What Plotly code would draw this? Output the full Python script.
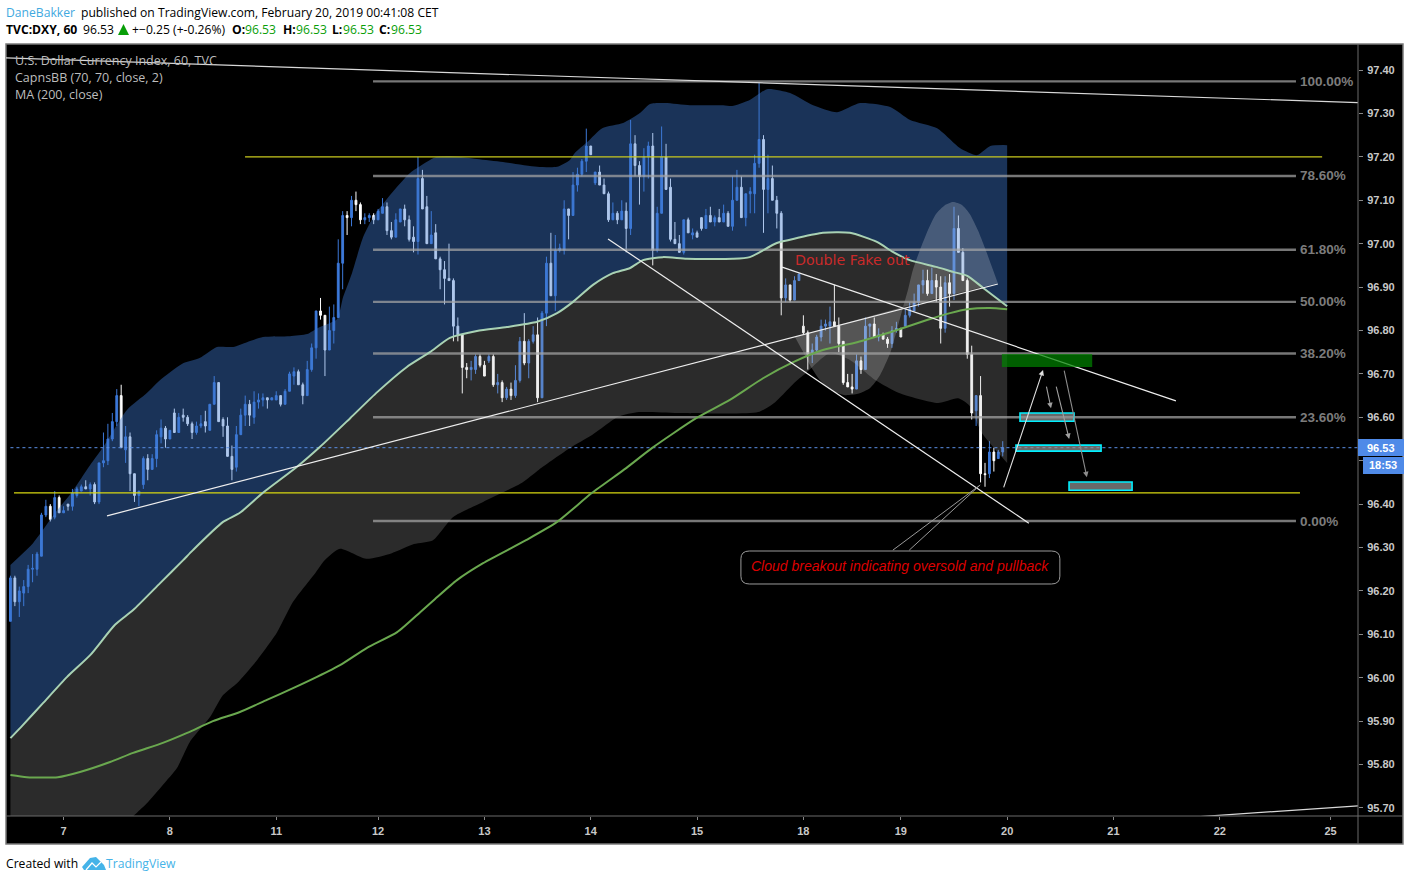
import plotly.graph_objects as go

# ---------- candles (hourly bars, index 0..224) ----------
OPEN = [
96.13,96.23,96.175,96.195,96.21,96.25,96.25,96.28,96.375,96.395,
96.37,96.415,96.38,96.4,96.395,96.42,96.43,96.44,96.435,96.445,
96.405,96.495,96.5,96.55,96.59,96.65,96.525,96.555,96.47,96.42,
96.445,96.505,96.48,96.505,96.555,96.575,96.55,96.61,96.565,96.605,
96.6,96.585,96.565,96.58,96.59,96.57,96.63,96.68,96.595,96.58,
96.51,96.485,96.56,96.605,96.63,96.6,96.635,96.64,96.645,96.64,
96.64,96.65,96.63,96.66,96.695,96.705,96.675,96.65,96.71,96.76,
96.845,96.835,96.755,96.8,96.83,96.955,97.065,97.06,97.1,97.09,
97.055,97.06,97.065,97.055,97.07,97.085,97.03,97.015,97.05,97.08,
97.055,97.015,97.005,97.15,97.085,97.0,97.025,96.965,96.94,96.92,
96.915,96.81,96.79,96.715,96.71,96.71,96.74,96.72,96.73,96.74,
96.675,96.68,96.645,96.665,96.65,96.685,96.775,96.725,96.775,96.79,
96.645,96.84,96.955,96.88,96.985,96.985,97.08,97.065,97.135,97.16,
97.19,97.225,97.14,97.165,97.135,97.115,97.055,97.07,97.055,97.075,
97.035,97.23,97.18,97.155,97.2,97.225,96.985,97.07,97.2,97.13,
97.01,97.0,96.98,97.055,97.02,97.025,97.06,97.035,97.065,97.05,
97.06,97.05,97.07,97.04,97.1,97.13,97.06,97.115,97.115,97.185,
97.24,97.125,97.15,97.1,97.07,96.875,96.905,96.87,96.915,96.81,
96.795,96.75,96.755,96.785,96.81,96.81,96.82,96.81,96.775,96.68,
96.67,96.665,96.73,96.71,96.81,96.815,96.785,96.79,96.78,96.77,
96.8,96.805,96.81,96.835,96.845,96.865,96.905,96.915,96.885,96.915,
96.9,96.805,96.91,96.885,97.035,96.98,96.915,96.745,96.615,96.65,
96.47,96.47,96.52,96.505,96.52]
HIGH = [
96.235,96.235,96.21,96.225,96.26,96.285,96.29,96.38,96.41,96.4,
96.43,96.42,96.395,96.4,96.435,96.44,96.445,96.455,96.45,96.45,
96.495,96.565,96.585,96.61,96.665,96.675,96.58,96.565,96.47,96.43,
96.51,96.515,96.515,96.57,96.595,96.58,96.57,96.62,96.61,96.62,
96.605,96.59,96.59,96.605,96.615,96.63,96.695,96.68,96.6,96.6,
96.535,96.58,96.62,96.65,96.64,96.66,96.655,96.655,96.645,96.645,
96.66,96.65,96.665,96.705,96.715,96.71,96.68,96.73,96.77,96.845,
96.875,96.835,96.855,96.86,97.01,97.075,97.075,97.11,97.12,97.095,
97.07,97.07,97.07,97.08,97.105,97.095,97.05,97.07,97.08,97.09,
97.065,97.04,97.2,97.17,97.11,97.075,97.045,96.97,96.96,97.0,
96.92,96.83,96.79,96.725,96.73,96.745,96.745,96.73,96.745,96.745,
96.7,96.685,96.67,96.68,96.72,96.785,96.84,96.78,96.81,96.83,
96.845,96.97,97.025,97.02,97.0,97.1,97.08,97.165,97.175,97.195,
97.265,97.225,97.165,97.18,97.15,97.12,97.095,97.075,97.1,97.095,
97.285,97.25,97.19,97.22,97.235,97.255,97.085,97.27,97.23,97.15,
97.05,97.02,97.055,97.06,97.035,97.03,97.06,97.08,97.085,97.065,
97.08,97.09,97.075,97.155,97.17,97.155,97.115,97.13,97.205,97.37,
97.25,97.205,97.18,97.11,97.075,96.92,96.905,96.925,96.93,96.835,
96.8,96.77,96.79,96.825,96.825,96.855,96.905,96.83,96.775,96.7,
96.7,96.745,96.74,96.83,96.815,96.83,96.805,96.795,96.785,96.81,
96.82,96.805,96.85,96.865,96.885,96.905,96.94,96.94,96.945,96.93,
96.925,96.925,96.93,97.085,97.065,96.99,96.92,96.765,96.65,96.695,
96.495,96.545,96.53,96.525,96.545]
LOW = [
96.13,96.165,96.14,96.165,96.195,96.22,96.235,96.28,96.37,96.36,
96.365,96.38,96.38,96.385,96.385,96.415,96.43,96.435,96.42,96.4,
96.4,96.485,96.49,96.545,96.58,96.53,96.495,96.43,96.405,96.395,
96.435,96.455,96.48,96.485,96.54,96.53,96.55,96.565,96.565,96.59,
96.58,96.55,96.56,96.575,96.565,96.57,96.63,96.59,96.555,96.51,
96.455,96.475,96.56,96.58,96.58,96.585,96.62,96.625,96.62,96.64,
96.64,96.625,96.63,96.66,96.675,96.675,96.63,96.65,96.705,96.735,
96.825,96.695,96.755,96.77,96.83,96.895,97.02,97.04,97.075,97.045,
97.045,97.05,97.045,97.055,97.07,97.02,97.01,97.015,97.05,97.04,
97.005,96.98,96.975,97.08,97.0,97.0,96.965,96.895,96.86,96.915,
96.775,96.775,96.655,96.69,96.685,96.7,96.715,96.695,96.725,96.67,
96.655,96.635,96.64,96.64,96.645,96.68,96.72,96.69,96.77,96.635,
96.645,96.81,96.88,96.845,96.98,96.975,97.01,97.065,97.12,97.155,
97.165,97.205,97.135,97.135,97.115,97.05,97.055,97.045,97.055,96.98,
97.02,97.155,97.09,97.12,97.15,96.95,96.98,97.07,97.125,97.005,
97.0,96.98,96.975,97.025,97.01,97.015,97.03,97.035,97.05,97.04,
97.05,97.05,97.04,97.03,97.1,97.06,97.04,97.07,97.07,97.175,
97.025,97.07,97.1,97.035,96.835,96.865,96.865,96.87,96.915,96.79,
96.71,96.725,96.75,96.775,96.8,96.77,96.81,96.75,96.675,96.67,
96.655,96.665,96.7,96.71,96.785,96.785,96.775,96.78,96.76,96.76,
96.795,96.785,96.81,96.83,96.845,96.855,96.885,96.88,96.885,96.865,
96.77,96.795,96.855,96.87,96.98,96.915,96.735,96.595,96.58,96.45,
96.44,96.46,96.475,96.505,96.51]
CLOSE = [
96.23,96.175,96.2,96.21,96.25,96.252,96.285,96.375,96.395,96.365,
96.415,96.38,96.385,96.395,96.425,96.435,96.44,96.435,96.445,96.405,
96.495,96.5,96.55,96.59,96.65,96.53,96.555,96.47,96.42,96.43,
96.505,96.48,96.505,96.56,96.575,96.55,96.57,96.565,96.6,96.6,
96.585,96.565,96.58,96.585,96.58,96.63,96.68,96.59,96.58,96.51,
96.48,96.56,96.605,96.63,96.605,96.635,96.64,96.645,96.64,96.645,
96.65,96.63,96.66,96.7,96.705,96.675,96.65,96.71,96.76,96.845,
96.835,96.755,96.8,96.83,96.955,97.065,97.06,97.1,97.09,97.055,
97.06,97.065,97.055,97.075,97.085,97.03,97.015,97.055,97.08,97.055,
97.01,97.005,97.15,97.08,97.0,97.02,96.965,96.94,96.92,96.915,
96.81,96.79,96.715,96.71,96.715,96.74,96.72,96.695,96.74,96.675,
96.68,96.645,96.665,96.65,96.685,96.775,96.725,96.775,96.79,96.645,
96.84,96.955,96.88,96.985,96.99,97.08,97.065,97.135,97.16,97.19,
97.225,97.205,97.165,97.135,97.115,97.055,97.07,97.055,97.075,97.035,
97.23,97.18,97.155,97.2,97.225,96.985,97.07,97.2,97.125,97.01,
97.0,96.98,97.055,97.025,97.025,97.015,97.035,97.065,97.05,97.06,
97.05,97.07,97.04,97.1,97.13,97.06,97.115,97.12,97.185,97.24,
97.125,97.15,97.1,97.07,96.875,96.905,96.87,96.915,96.93,96.795,
96.745,96.755,96.785,96.81,96.815,96.82,96.81,96.77,96.68,96.67,
96.665,96.73,96.71,96.81,96.815,96.785,96.79,96.78,96.77,96.8,
96.805,96.785,96.835,96.85,96.865,96.905,96.915,96.885,96.915,96.9,
96.805,96.91,96.885,97.035,96.98,96.915,96.745,96.61,96.65,96.47,
96.468,96.52,96.5,96.52,96.53]
BARS = list(range(len(OPEN)))

# ---------- indicator curves: bar position / price ----------
UPPER_BAR = [0,5.1,7.8,10.1,13.9,18,20.9,26.3,30.8,33.8,38.7,42.8,46.6,50.3,53.4,57,63.1,67,69.4,73.7,75.1,77.1,79.6,81.9,85.7,90.2,94.7,96.3,99.2,105.3,111.2,118.9,123.4,126.3,127.4,130.2,133.6,138.3,142.1,144.4,147.8,153.4,160.9,162.9,166.9,170.8,176,181.2,186.6,191.8,198.6,203.1,209.2,214.4,218.2,221.2,225]
UPPER_VAL = [96.26,96.31,96.347,96.38,96.428,96.49,96.531,96.617,96.656,96.686,96.723,96.737,96.762,96.762,96.773,96.785,96.787,96.792,96.806,96.826,96.877,96.932,97.015,97.061,97.112,97.163,97.193,97.2,97.202,97.195,97.188,97.177,97.177,97.193,97.209,97.234,97.266,97.278,97.301,97.322,97.324,97.319,97.319,97.317,97.331,97.356,97.347,97.319,97.303,97.324,97.315,97.285,97.266,97.22,97.204,97.225,97.227]
BASIS_BAR = [0,2.8,7.4,12.8,18,23.6,27.7,33.8,39,41.2,48,51.8,57,64.7,69.9,76.7,82.8,89.5,94.7,99.2,105.3,112.1,118.9,123.4,127,131.5,136,139.9,142.8,147.3,152.7,163.1,166.9,173,177.6,183.4,189.5,195.6,199.2,203,209.2,212.8,216,219.6,225]
BASIS_VAL = [95.861,95.891,95.942,96.002,96.052,96.122,96.156,96.218,96.271,96.294,96.359,96.38,96.426,96.486,96.532,96.598,96.658,96.716,96.75,96.783,96.799,96.808,96.82,96.84,96.866,96.905,96.932,96.944,96.962,96.969,96.965,96.965,96.969,97.0015,97.013,97.025,97.025,97.004,96.981,96.962,96.946,96.935,96.926,96.898,96.856]
LOWER_BAR = [0,8.9,20.2,27.5,30.8,34.4,37.6,40.5,45.1,48,51.2,55.7,60.2,63.8,68.8,71,74.4,80.3,86.1,91.1,95.4,99.9,106.7,115.5,119.3,126.3,131.3,137.2,141.9,150.7,168.8,172.4,177.1,179.8,185,189.5,195.2,200.6,209.4,213.9,216.4,219.3,225]
LOWER_VAL = [95.35,95.476,95.603,95.679,95.711,95.753,95.792,95.852,95.91,95.96,95.988,96.041,96.105,96.175,96.241,96.271,96.297,96.274,96.287,96.308,96.317,96.37,96.405,96.449,96.479,96.529,96.559,96.601,96.612,96.61,96.612,96.633,96.681,96.704,96.748,96.732,96.686,96.656,96.633,96.644,96.628,96.564,96.495]
MA_BAR = [0,3.7,10.7,15.7,22.5,27.7,34.4,39.9,45.7,51.8,57.9,63.8,69.2,74.4,80.5,87.3,92.5,95.8,100.8,106.7,116.4,123.4,131.3,139,144.8,154.8,162.4,169.9,176.7,183.4,191.1,198.6,206.9,212.1,216,221.1,225]
MA_VAL = [95.776,95.771,95.771,95.783,95.806,95.827,95.85,95.873,95.9,95.921,95.949,95.976,96.002,96.029,96.069,96.105,96.151,96.181,96.225,96.264,96.317,96.359,96.426,96.483,96.529,96.598,96.64,96.69,96.727,96.755,96.773,96.796,96.824,96.84,96.849,96.852,96.849]

# ---------- drawings ----------
FIB_LABELS = ["100.00%","78.60%","61.80%","50.00%","38.20%","23.60%","0.00%"]
FIB_PRICES = [97.374,97.156,96.986,96.866,96.747,96.6,96.361]
FIB_START, FIB_END, FIB_LABEL_BAR = 81.85, 290.2, 290.7
RES_LINE = [97.2, 52.96, 296.1]
SUP_LINE = [96.426, 0.8, 291.1]
TOP_TREND = ([-1, 304.2], [97.428, 97.325])
BOTTOM_TREND = ([268.5, 304.2], [95.68, 95.705])
RISING = ([21.8, 222.9], [96.373, 96.907])
FALLING_A = ([134.9, 229.9], [97.011, 96.356])
FALLING_B = ([174.2, 263.1], [96.946, 96.638])
POINTER_A = ([199.2, 218.9], [96.294, 96.444])
POINTER_B = ([202.9, 218.9], [96.294, 96.444])
ARC_TOP_BAR = [201.5,202.6,203.7,205.3,207.1,208.9,211,212.8,214.8,216.6,218.4,220,221.4,222.9]
ARC_TOP_VAL = [96.854,96.893,96.939,96.985,97.031,97.068,97.089,97.096,97.089,97.068,97.031,96.99,96.951,96.909]
ARC_LOW_BAR = [177.1,178.7,180.5,182.7,185.5,188.4,191.3,194,196.3,198.6,200.1,201.5]
ARC_LOW_VAL = [96.785,96.755,96.72,96.686,96.661,96.651,96.654,96.667,96.697,96.748,96.801,96.854]
TARGETS = [(227.9,240.1,96.591,96.61),(227,246.2,96.522,96.536),(238.97,253.2,96.432,96.451)]
ZONE = (223.8,244.2,96.716,96.746)
ARROWS = [(224.1,96.435,233.1,96.709,"#e0e0e0"),(233.8,96.674,234.9,96.621,"#a0a0a0"),
          (236,96.674,239,96.55,"#a0a0a0"),(237.8,96.711,243,96.462,"#8c8c8c")]
LAST_PRICE = 96.53
CALLOUT = (164.9,236.9,96.216,96.292)
Y_TICKS = [95.7,95.8,95.9,96.0,96.1,96.2,96.3,96.4,96.5,96.6,96.7,96.8,96.9,97.0,97.1,97.2,97.3,97.4]
HIDDEN_TICK = 96.5   # covered by the price tags in the reference
X_TICK_BARS = [12,36,60,83,107,131,155,179,201,225,249,273,298]
X_TICK_TEXT = ["7","8","11","12","13","14","15","18","19","20","21","22","25"]

# plot-area geometry (page pixels), used only for the page chrome
L, R, T, B = 6, 1358, 44, 816
W, H = 1410, 881
def px(x): return (x - L) / (R - L)
def py(y): return (B - y) / (B - T)

fig = go.Figure()
fig.add_trace(go.Candlestick(x=BARS, open=OPEN, high=HIGH, low=LOW, close=CLOSE,
    increasing=dict(line=dict(color="#3c78d8", width=1), fillcolor="#3c78d8"),
    decreasing=dict(line=dict(color="#ffffff", width=1), fillcolor="#ffffff"),
    whiskerwidth=0, hoverinfo="skip"))

def line(x, y, color, width=1, dash=None, shape="linear"):
    fig.add_trace(go.Scatter(x=x, y=y, mode="lines", hoverinfo="skip",
                             line=dict(color=color, width=width, dash=dash, shape=shape, smoothing=0.6 if shape == "spline" else None)))
def band(x0, y0, x1, y1, color):
    # edge pair filled between them, each edge smoothed on its own
    fig.add_trace(go.Scatter(x=x0, y=y0, mode="lines", hoverinfo="skip",
                             line=dict(width=0, shape="spline", smoothing=0.6)))
    fig.add_trace(go.Scatter(x=x1, y=y1, mode="lines", fill="tonexty", fillcolor=color, hoverinfo="skip",
                             line=dict(width=0, shape="spline", smoothing=0.6)))
def poly(x, y, color):
    fig.add_trace(go.Scatter(x=x, y=y, mode="lines", fill="toself", fillcolor=color,
                             hoverinfo="skip", line=dict(width=0, shape="spline", smoothing=0.6)))

band(BASIS_BAR, BASIS_VAL, UPPER_BAR, UPPER_VAL, "rgba(62,121,210,0.42)")
band(LOWER_BAR, LOWER_VAL, BASIS_BAR, BASIS_VAL, "rgba(187,187,187,0.23)")
poly(ARC_TOP_BAR, ARC_TOP_VAL, "rgba(255,255,255,0.2)")
poly(ARC_LOW_BAR, ARC_LOW_VAL, "rgba(255,255,255,0.2)")

for p in FIB_PRICES:
    line([FIB_START, FIB_END], [p, p], "rgba(165,165,165,0.72)", 2.4)
line(BARS + [304.2], [LAST_PRICE] * (len(BARS) + 1), "#5b8fe6", 1, "dot")
line(RES_LINE[1:], [RES_LINE[0]] * 2, "#c9c91e", 1.3)
line(SUP_LINE[1:], [SUP_LINE[0]] * 2, "#d8d810", 1.4)
line(BASIS_BAR, BASIS_VAL, "#a9d2b4", 2, shape="spline")
line(MA_BAR, MA_VAL, "#6aa84f", 2, shape="spline")
line(*TOP_TREND, "#d8d8d8", 1.2)
line(*BOTTOM_TREND, "#d8d8d8", 1.2)
line(*RISING, "#eeeeee", 1.2)
line(*FALLING_A, "#eeeeee", 1.2)
line(*FALLING_B, "#eeeeee", 1.2)
line(*POINTER_A, "#999999", 1)
line(*POINTER_B, "#999999", 1)

shapes = []
shapes.append(dict(type="rect", xref="paper", yref="paper", x0=px(6), x1=px(1403), y0=py(844), y1=py(44),
                   fillcolor="#000000", line=dict(color="#7a7a7a", width=1.5), layer="below"))
shapes.append(dict(type="rect", xref="x", yref="y", x0=ZONE[0], x1=ZONE[1], y0=ZONE[2], y1=ZONE[3],
                   fillcolor="rgba(0,130,0,0.72)", line=dict(width=0)))
for a, b, c, d in TARGETS:
    shapes.append(dict(type="rect", xref="x", yref="y", x0=a, x1=b, y0=c, y1=d,
                       fillcolor="rgba(150,150,150,0.7)", line=dict(color="#00f0ff", width=1.6)))
a, b, c, d = CALLOUT
rx, ry = 1.9, 0.018
shapes.append(dict(type="path", xref="x", yref="y", layer="above",
    path=f"M {a+rx} {d} L {b-rx} {d} Q {b} {d} {b} {d-ry} L {b} {c+ry} Q {b} {c} {b-rx} {c} "
         f"L {a+rx} {c} Q {a} {c} {a} {c+ry} L {a} {d-ry} Q {a} {d} {a+rx} {d} Z",
    fillcolor="#000000", line=dict(color="#9a9a9a", width=1)))
shapes.append(dict(type="line", xref="paper", yref="paper", x0=px(6), x1=px(1403), y0=py(816), y1=py(816),
                   line=dict(color="#6a6a6a", width=1)))
shapes.append(dict(type="line", xref="paper", yref="paper", x0=px(1358), x1=px(1358), y0=py(844), y1=py(44),
                   line=dict(color="#6a6a6a", width=1)))
shapes.append(dict(type="rect", xref="paper", yref="paper", x0=px(1358), x1=px(1404), y0=py(456), y1=py(439),
                   fillcolor="#4f8ae8", line=dict(width=0)))
shapes.append(dict(type="rect", xref="paper", yref="paper", x0=px(1363), x1=px(1404), y0=py(474), y1=py(457),
                   fillcolor="#4f8ae8", line=dict(width=0)))
def poly_path(pts):
    return "M " + " L ".join(f"{px(x)} {py(y)}" for x, y in pts) + " Z"
# header triangle and logo
shapes.append(dict(type="path", xref="paper", yref="paper",
    path=poly_path([(118,35),(129,35),(123.5,24)]), fillcolor="#089e08", line=dict(width=0)))
shapes.append(dict(type="path", xref="paper", yref="paper",
    path=poly_path([(82,867),(90,858),(96,857),(100,861),(104,865),(106,870),(84,870)]),
    fillcolor="#45b3e8", line=dict(width=0)))
shapes.append(dict(type="path", xref="paper", yref="paper",
    path="M " + " L ".join(f"{px(x)} {py(y)}" for x, y in [(86,870),(92,863),(96,867),(101,862)]),
    line=dict(color="#ffffff", width=1.2)))

SANS = "Open Sans"
ann = []
def txt(x, y, s, color="#000000", size=12.15, bold=False, anchor="left", family=SANS, italic=False):
    ann.append(dict(xref="paper", yref="paper", x=px(x), y=py(y), text=s, showarrow=False,
                    xanchor=anchor, yanchor="middle", borderpad=0,
                    font=dict(family=family, size=size, color=color,
                              weight=700 if bold else 400, style="italic" if italic else "normal")))

txt(5, 12.5, "DaneBakker", "#3fa9e0")
txt(80, 12.5, "published on TradingView.com, February 20, 2019 00:41:08 CET")
txt(5, 29.5, "TVC:DXY, 60", bold=True)
txt(82, 29.5, "96.53")
txt(131, 29.5, "+−0.25 (+-0.26%)")
for lab, xl, xv in [("O:",231,244),("H:",282,295),("L:",331,342),("C:",378,390)]:
    txt(xl, 29.5, lab, bold=True)
    txt(xv, 29.5, "96.53", "#089e08")
txt(14, 60.5, "U.S. Dollar Currency Index, 60, TVC", "#bdbdbd", 12.5)
txt(14, 77.5, "CapnsBB (70, 70, close, 2)", "#bdbdbd", 12.5)
txt(14, 94.5, "MA (200, close)", "#bdbdbd", 12.5)
txt(5, 863.5, "Created with")
txt(105, 863.5, "TradingView", "#45b3e8")
txt(1381, 447.5, "96.53", "#ffffff", 11, True, "center", "Liberation Sans")
txt(1383, 465.5, "18:53", "#ffffff", 11, True, "center", "Liberation Sans")

for lab, p in zip(FIB_LABELS, FIB_PRICES):
    ann.append(dict(xref="x", yref="y", x=FIB_LABEL_BAR, y=p, text=lab, showarrow=False, xanchor="left",
                    yanchor="middle", font=dict(family="Liberation Sans", size=13.5, color="#7c7c7c", weight=700)))
ann.append(dict(xref="x", yref="y", x=176.6, y=96.962, text="Double Fake out", showarrow=False, xanchor="left",
                yanchor="middle", font=dict(family="DejaVu Sans", size=14.2, color="#c92a2a")))
ann.append(dict(xref="x", yref="y", x=(a + b) / 2, y=(c + d) / 2 + 0.004, text="Cloud breakout indicating oversold and pullback",
                showarrow=False, xanchor="center", yanchor="middle",
                font=dict(family="Liberation Sans", size=14, color="#dd0000", style="italic")))
for x0, y0, x1, y1, col in ARROWS:
    ann.append(dict(xref="x", yref="y", axref="x", ayref="y", x=x1, y=y1, ax=x0, ay=y0, text="",
                    showarrow=True, arrowhead=2, arrowsize=1, arrowwidth=1.1, arrowcolor=col))

fig.update_layout(
    width=W, height=H, showlegend=False, paper_bgcolor="#ffffff", plot_bgcolor="#000000",
    margin=dict(l=L, r=W - R, t=T, b=H - B, pad=0), boxgap=0.42,
    shapes=shapes, annotations=ann,
    xaxis=dict(range=[-1, 304.2], rangeslider=dict(visible=False), showgrid=False, zeroline=False,
               tickmode="array", tickvals=X_TICK_BARS, ticktext=X_TICK_TEXT, ticks="outside", ticklen=3,
               ticklabelstandoff=2, tickcolor="#888888",
               tickfont=dict(family="Liberation Sans", size=11, color="#c8c8c8", weight=700)),
    yaxis=dict(range=[95.6815, 97.46], side="right", showgrid=False, zeroline=False,
               tickmode="array", tickvals=Y_TICKS,
               ticktext=["" if v == HIDDEN_TICK else f"{v:.2f}" for v in Y_TICKS], ticks="outside",
               ticklen=4, ticklabelstandoff=2, tickcolor="#888888",
               tickfont=dict(family="Liberation Sans", size=11, color="#c8c8c8", weight=700)),
)
fig.write_html("out.html", config=dict(displayModeBar=False),
               post_script="document.body.style.margin='0';document.body.style.overflow='hidden';")
